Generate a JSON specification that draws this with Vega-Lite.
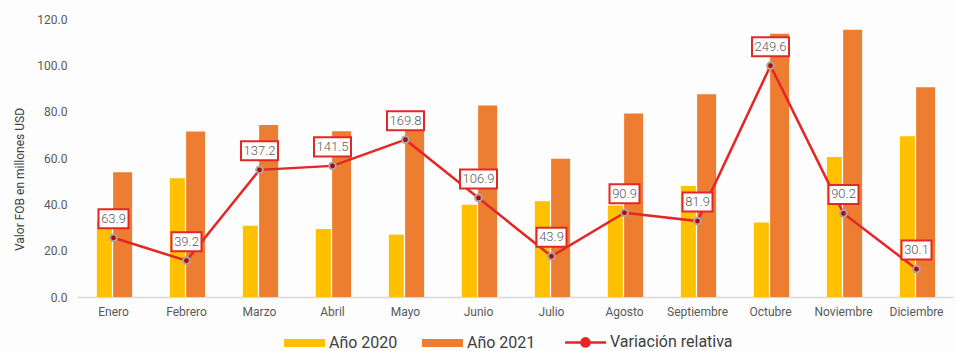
{
  "$schema": "https://vega.github.io/schema/vega-lite/v6.json",
  "width": 876,
  "height": 278,
  "autosize": {"type": "none"},
  "padding": {"left": 77, "top": 19, "right": 3, "bottom": 54},
  "background": "#FCFDFC",
  "config": {
    "view": {"stroke": null},
    "font": "Roboto"
  },
  "datasets": {
    "barras": [
      {"mes": "Enero", "serie": "Año 2020", "valor": 33.0},
      {"mes": "Enero", "serie": "Año 2021", "valor": 53.8},
      {"mes": "Febrero", "serie": "Año 2020", "valor": 51.3},
      {"mes": "Febrero", "serie": "Año 2021", "valor": 71.4},
      {"mes": "Marzo", "serie": "Año 2020", "valor": 30.8},
      {"mes": "Marzo", "serie": "Año 2021", "valor": 74.2},
      {"mes": "Abril", "serie": "Año 2020", "valor": 29.3},
      {"mes": "Abril", "serie": "Año 2021", "valor": 71.6},
      {"mes": "Mayo", "serie": "Año 2020", "valor": 26.9},
      {"mes": "Mayo", "serie": "Año 2021", "valor": 72.0},
      {"mes": "Junio", "serie": "Año 2020", "valor": 39.8},
      {"mes": "Junio", "serie": "Año 2021", "valor": 82.7},
      {"mes": "Julio", "serie": "Año 2020", "valor": 41.3},
      {"mes": "Julio", "serie": "Año 2021", "valor": 59.7},
      {"mes": "Agosto", "serie": "Año 2020", "valor": 39.5},
      {"mes": "Agosto", "serie": "Año 2021", "valor": 79.2},
      {"mes": "Septiembre", "serie": "Año 2020", "valor": 47.9},
      {"mes": "Septiembre", "serie": "Año 2021", "valor": 87.5},
      {"mes": "Octubre", "serie": "Año 2020", "valor": 32.2},
      {"mes": "Octubre", "serie": "Año 2021", "valor": 113.6},
      {"mes": "Noviembre", "serie": "Año 2020", "valor": 60.4},
      {"mes": "Noviembre", "serie": "Año 2021", "valor": 115.4},
      {"mes": "Diciembre", "serie": "Año 2020", "valor": 69.4},
      {"mes": "Diciembre", "serie": "Año 2021", "valor": 90.5}
    ],
    "variacion": [
      {"mes": "Enero", "variacion": 63.9},
      {"mes": "Febrero", "variacion": 39.2},
      {"mes": "Marzo", "variacion": 137.2},
      {"mes": "Abril", "variacion": 141.5},
      {"mes": "Mayo", "variacion": 169.8},
      {"mes": "Junio", "variacion": 106.9},
      {"mes": "Julio", "variacion": 43.9},
      {"mes": "Agosto", "variacion": 90.9},
      {"mes": "Septiembre", "variacion": 81.9},
      {"mes": "Octubre", "variacion": 249.6},
      {"mes": "Noviembre", "variacion": 90.2},
      {"mes": "Diciembre", "variacion": 30.1}
    ]
  },
  "encoding": {
    "x": {
      "field": "mes",
      "type": "nominal",
      "sort": ["Enero","Febrero","Marzo","Abril","Mayo","Junio","Julio","Agosto","Septiembre","Octubre","Noviembre","Diciembre"],
      "scale": {"paddingInner": 0, "paddingOuter": 0},
      "axis": {
        "title": null,
        "labelAngle": 0,
        "labelFont": "Roboto",
        "labelFontSize": 12,
        "labelColor": "#595959",
        "labelPadding": 9,
        "ticks": false,
        "domainColor": "#D9D9D9",
        "domainWidth": 1.5,
        "grid": false
      }
    }
  },
  "layer": [
    {
      "layer": [
        {
          "data": {"name": "barras"},
          "transform": [{"filter": "datum.serie === 'Año 2020'"}],
          "mark": {"type": "bar", "width": 15},
          "encoding": {
            "xOffset": {"field": "serie", "type": "nominal", "scale": {"domain": ["Año 2020","Año 2021"], "paddingInner": 0, "paddingOuter": 1.147}},
            "y": {
              "field": "valor", "type": "quantitative",
              "scale": {"domain": [0, 120]},
              "axis": {
                "title": "Valor FOB en millones USD",
                "titleFont": "Roboto",
                "titleFontSize": 12,
                "titleFontWeight": "normal",
                "titleColor": "#404040",
                "titleX": -51,
                "titleY": 160,
                "format": ".1f",
                "values": [0,20,40,60,80,100,120],
                "labelFont": "Roboto",
                "labelFontSize": 12,
                "labelColor": "#595959",
                "labelPadding": 10,
                "ticks": false,
                "domain": false,
                "grid": false
              }
            },
            "color": {
              "field": "serie", "type": "nominal",
              "scale": {"domain": ["Año 2020","Año 2021","Variación relativa"], "range": ["#FFC000","#ED7D31","#E32626"]},
              "legend": {
                "orient": "none",
                "legendX": 219.5,
                "legendY": 315,
                "direction": "horizontal",
                "title": null,
                "labelFont": "Roboto",
                "labelFontSize": 16,
                "labelColor": "#404040",
                "symbolSize": 1681,
                "columnPadding": 24,
                "labelOffset": 16.5,
                "encode": {
                  "symbols": {
                    "update": {
                      "shape": {"signal": "datum.label === 'Variación relativa' ? 'M-1,0L1,0M-0.2,0A0.2,0.2 0 1,1 0.2,0A0.2,0.2 0 1,1 -0.2,0Z' : 'M-1,-0.2L1,-0.2L1,0.2L-1,0.2Z'"},
                      "fill": {"signal": "datum.label === 'Variación relativa' ? '#C00000' : (datum.label === 'Año 2020' ? '#FFC000' : '#ED7D31')"},
                      "stroke": {"signal": "datum.label === 'Variación relativa' ? '#E32626' : 'transparent'"},
                      "strokeWidth": {"signal": "datum.label === 'Variación relativa' ? 2.5 : 0"},
                      "size": {"value": 1681},
                      "opacity": {"value": 1},
                      "fillOpacity": {"value": 1}
                    }
                  }
                }
              }
            }
          }
        },
        {
          "data": {"name": "barras"},
          "transform": [{"filter": "datum.serie === 'Año 2021'"}],
          "mark": {"type": "bar", "width": 19},
          "encoding": {
            "xOffset": {"field": "serie", "type": "nominal", "scale": {"domain": ["Año 2020","Año 2021"], "paddingInner": 0, "paddingOuter": 1.147}},
            "y": {"field": "valor", "type": "quantitative"},
            "color": {"field": "serie", "type": "nominal"}
          }
        }
      ]
    },
    {
      "data": {"name": "variacion"},
      "encoding": {
        "y": {"field": "variacion", "type": "quantitative", "scale": {"domain": [0, 300]}, "axis": null}
      },
      "layer": [
        {
          "mark": {"type": "line", "stroke": "#E32626", "strokeWidth": 2.5},
          "encoding": {"color": {"datum": "Variación relativa"}}
        },
        {
          "mark": {"type": "point", "filled": true, "fill": "#C00000", "stroke": "#A6A6A6", "strokeWidth": 2, "size": 45, "opacity": 1},
          "encoding": {}
        },
        {
          "mark": {"type": "point", "filled": false, "fill": "#FFFFFF", "fillOpacity": 1, "stroke": "#E32626", "strokeWidth": 2, "opacity": 1, "yOffset": -19},
          "encoding": {
            "shape": {"condition": {"test": "datum.variacion >= 100", "value": "M-1,-0.514L1,-0.514L1,0.514L-1,0.514Z"}, "value": "M-1,-0.633L1,-0.633L1,0.633L-1,0.633Z"},
            "size": {"condition": {"test": "datum.variacion >= 100", "value": 1369}, "value": 900}
          }
        },
        {
          "mark": {"type": "text", "font": "Roboto", "fontSize": 13, "fontWeight": 300, "color": "#595959", "baseline": "middle", "align": "center", "dy": -19},
          "encoding": {"text": {"field": "variacion", "type": "quantitative", "format": ".1f"}}
        }
      ]
    }
  ],
  "resolve": {"scale": {"y": "independent"}}
}
